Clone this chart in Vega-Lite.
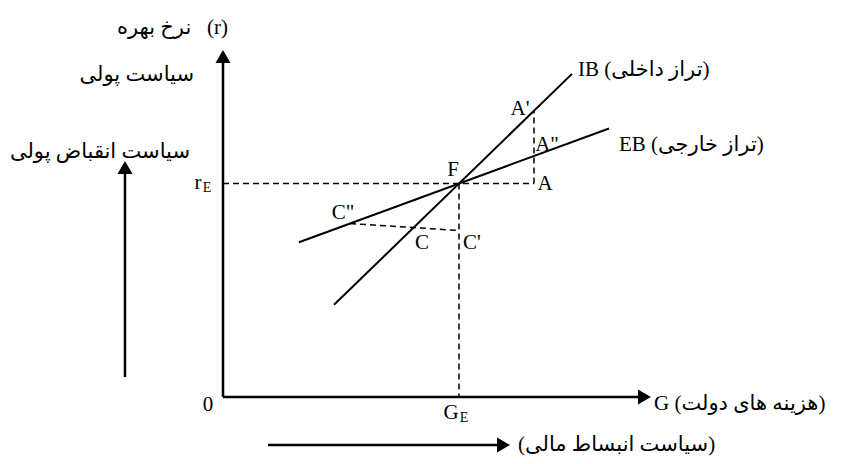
{
  "$schema": "https://vega.github.io/schema/vega-lite/v6.json",
  "width": 845,
  "height": 464,
  "autosize": {"type": "fit", "contains": "padding"},
  "padding": 0,
  "background": "white",
  "config": {"view": {"stroke": null}},
  "datasets": {
    "segments": [
      {"name": "r axis", "group": "axis", "x": 0, "y": 0, "x2": 0, "y2": 334},
      {"name": "G axis", "group": "axis", "x": 0, "y": 0, "x2": 421, "y2": 0},
      {"name": "monetary contraction", "group": "axis", "x": -98, "y": 20, "x2": -98, "y2": 229},
      {"name": "fiscal expansion", "group": "axis", "x": 45, "y": -48, "x2": 280, "y2": -48},
      {"name": "IB", "group": "curve", "x": 111, "y": 92.2, "x2": 349, "y2": 323.1},
      {"name": "EB", "group": "curve", "x": 76, "y": 154.8, "x2": 386, "y2": 268.5},
      {"name": "rE", "group": "dash", "x": 0, "y": 213.5, "x2": 311, "y2": 213.5},
      {"name": "GE", "group": "dash", "x": 236, "y": 213.5, "x2": 236, "y2": 0},
      {"name": "A-A'", "group": "dash", "x": 311, "y": 213.5, "x2": 311, "y2": 286.5},
      {"name": "C''-C'", "group": "dash", "x": 127, "y": 173.5, "x2": 236, "y2": 166.5}
    ],
    "heads": [
      {"name": "r axis", "dir": "up", "x": 0, "y": 340.5},
      {"name": "monetary contraction", "dir": "up", "x": -98, "y": 229.5},
      {"name": "G axis", "dir": "right", "x": 421.5, "y": 0},
      {"name": "fiscal expansion", "dir": "right", "x": 280.5, "y": -48}
    ],
    "latin": [
      {"label": "F", "x": 230, "y": 227},
      {"label": "A'", "x": 297, "y": 288},
      {"label": "A\"", "x": 324, "y": 252},
      {"label": "A", "x": 322, "y": 213},
      {"label": "C\"", "x": 120, "y": 184},
      {"label": "C", "x": 199, "y": 154},
      {"label": "C'", "x": 249, "y": 154},
      {"label": "0", "x": -15, "y": -8},
      {"label": "G", "x": 228, "y": -16},
      {"label": "r", "x": -25, "y": 214}
    ],
    "subs": [
      {"label": "E", "x": 241, "y": -21},
      {"label": "E", "x": -16, "y": 209}
    ],
    "leftText": [
      {"label": "IB (تراز داخلی)", "x": 355, "y": 327},
      {"label": "EB (تراز خارجی)", "x": 396, "y": 252},
      {"label": "G (هزینه های دولت)", "x": 431, "y": -7},
      {"label": "(سیاست انبساط مالی)", "x": 295, "y": -48}
    ],
    "rightText": [
      {"label": "نرخ بهره\u00a0\u00a0\u00a0(r)", "x": 5, "y": 369},
      {"label": "سیاست پولی", "x": -29, "y": 322},
      {"label": "سیاست انقباض پولی", "x": -33, "y": 245}
    ]
  },
  "encoding": {
    "x": {"field": "x", "type": "quantitative", "scale": {"domain": [-223, 622], "nice": false, "zero": false}, "axis": null},
    "y": {"field": "y", "type": "quantitative", "scale": {"domain": [-67, 397], "nice": false, "zero": false}, "axis": null}
  },
  "layer": [
    {
      "data": {"name": "segments"},
      "transform": [{"filter": "datum.group === 'axis'"}],
      "mark": {"type": "rule", "color": "black", "strokeWidth": 2.5},
      "encoding": {"x2": {"field": "x2"}, "y2": {"field": "y2"}}
    },
    {
      "data": {"name": "segments"},
      "transform": [{"filter": "datum.group === 'curve'"}],
      "mark": {"type": "rule", "color": "black", "strokeWidth": 2},
      "encoding": {"x2": {"field": "x2"}, "y2": {"field": "y2"}}
    },
    {
      "data": {"name": "segments"},
      "transform": [{"filter": "datum.group === 'dash'"}],
      "mark": {"type": "rule", "color": "black", "strokeWidth": 1.5, "strokeDash": [6, 4]},
      "encoding": {"x2": {"field": "x2"}, "y2": {"field": "y2"}}
    },
    {
      "data": {"name": "heads"},
      "transform": [{"filter": "datum.dir === 'up'"}],
      "mark": {"type": "point", "shape": "triangle-up", "size": 225, "filled": true, "color": "black", "opacity": 1}
    },
    {
      "data": {"name": "heads"},
      "transform": [{"filter": "datum.dir === 'right'"}],
      "mark": {"type": "point", "shape": "triangle-right", "size": 225, "filled": true, "color": "black", "opacity": 1}
    },
    {
      "data": {"name": "latin"},
      "mark": {"type": "text", "font": "Liberation Serif", "fontSize": 21, "color": "black", "baseline": "middle", "align": "center"},
      "encoding": {"text": {"field": "label"}}
    },
    {
      "data": {"name": "subs"},
      "mark": {"type": "text", "font": "Liberation Serif", "fontSize": 14, "color": "black", "baseline": "middle", "align": "center"},
      "encoding": {"text": {"field": "label"}}
    },
    {
      "data": {"name": "leftText"},
      "mark": {"type": "text", "font": "Liberation Serif, DejaVu Sans", "fontSize": 21, "color": "black", "baseline": "middle", "align": "left"},
      "encoding": {"text": {"field": "label"}}
    },
    {
      "data": {"name": "rightText"},
      "mark": {"type": "text", "font": "Liberation Serif, DejaVu Sans", "fontSize": 21, "color": "black", "baseline": "middle", "align": "right"},
      "encoding": {"text": {"field": "label"}}
    }
  ]
}
